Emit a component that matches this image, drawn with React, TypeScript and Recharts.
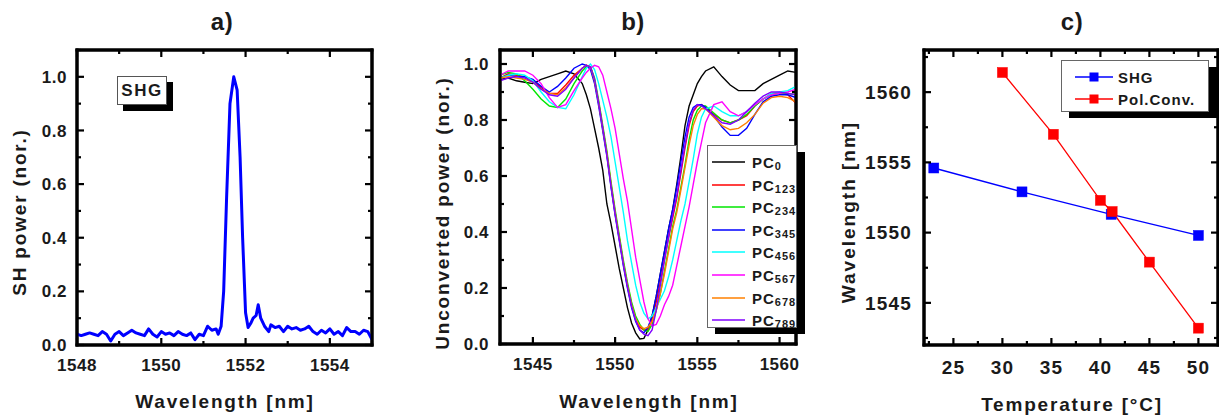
import React from "react";
import { LineChart, Line, XAxis, YAxis, ReferenceArea } from "recharts";

const FONT = "'Liberation Sans', Arial, Helvetica, sans-serif";
const INK = "#1a1a1a";

// ---------------- Panel a: SHG spectrum ----------------
const shgWavelength = [
  1548.0, 1548.1, 1548.2, 1548.3, 1548.4, 1548.5, 1548.6, 1548.7, 1548.8, 1548.9,
  1549.0, 1549.1, 1549.2, 1549.3, 1549.4, 1549.5, 1549.6, 1549.7, 1549.8, 1549.9,
  1550.0, 1550.1, 1550.2, 1550.3, 1550.4, 1550.5, 1550.6, 1550.7, 1550.8, 1550.9,
  1551.0, 1551.1, 1551.2, 1551.3, 1551.35, 1551.42, 1551.48, 1551.55, 1551.63, 1551.72,
  1551.8, 1551.87, 1551.93, 1552.0, 1552.06, 1552.12, 1552.18, 1552.25, 1552.3, 1552.36,
  1552.45, 1552.55, 1552.6, 1552.7, 1552.8, 1552.9, 1553.0, 1553.1, 1553.2, 1553.3,
  1553.4, 1553.5, 1553.6, 1553.7, 1553.8, 1553.9, 1554.0, 1554.1, 1554.2, 1554.3,
  1554.4, 1554.5, 1554.6, 1554.7, 1554.8, 1554.9, 1555.0,
];
const shgPower = [
  0.04, 0.035, 0.04, 0.045, 0.04, 0.035, 0.05, 0.04, 0.015, 0.04,
  0.05, 0.035, 0.045, 0.055, 0.045, 0.04, 0.035, 0.06, 0.04, 0.03,
  0.05, 0.04, 0.045, 0.035, 0.05, 0.04, 0.035, 0.045, 0.02, 0.04,
  0.035, 0.07, 0.055, 0.06, 0.04, 0.07, 0.2, 0.55, 0.9, 1.0,
  0.95, 0.7, 0.4, 0.12, 0.065, 0.08, 0.1, 0.11, 0.15, 0.1,
  0.07, 0.05, 0.075, 0.065, 0.07, 0.05, 0.07, 0.06, 0.065, 0.055,
  0.06, 0.07, 0.05, 0.04, 0.055, 0.045, 0.06, 0.04, 0.05, 0.035,
  0.065, 0.05, 0.05, 0.04, 0.055, 0.05, 0.02,
];

// ---------------- Panel b: unconverted power ----------------
const specWavelength = [
  1543, 1543.5, 1544, 1544.5, 1545, 1545.5, 1546, 1546.5, 1547, 1547.5,
  1548, 1548.25, 1548.5, 1548.75, 1549, 1549.25, 1549.5, 1549.75, 1550, 1550.25,
  1550.5, 1550.75, 1551, 1551.25, 1551.5, 1551.75, 1552, 1552.25, 1552.5, 1552.75,
  1553, 1553.25, 1553.5, 1553.75, 1554, 1554.25, 1554.5, 1554.75, 1555, 1555.25,
  1555.5, 1556, 1556.5, 1557, 1557.5, 1558, 1558.5, 1559, 1559.5, 1560,
  1560.5, 1561,
];
const pc0 = [
  0.945, 0.95, 0.94, 0.935, 0.93, 0.945, 0.955, 0.965, 0.975, 0.965,
  0.93, 0.89, 0.84, 0.77, 0.7, 0.62, 0.5, 0.43, 0.35, 0.27,
  0.2, 0.13, 0.075, 0.04, 0.018, 0.02, 0.05, 0.1, 0.17, 0.25,
  0.33, 0.41, 0.48, 0.57, 0.67, 0.78, 0.85, 0.89, 0.93, 0.955,
  0.975, 0.99, 0.955, 0.925, 0.905, 0.905, 0.905, 0.93, 0.945, 0.96,
  0.975, 0.97,
];
const pc123 = [
  0.95, 0.965, 0.96, 0.955, 0.94, 0.915, 0.895, 0.895, 0.925, 0.96,
  0.985, 0.995, 0.99, 0.94, 0.86, 0.77, 0.68, 0.57, 0.47, 0.38,
  0.29, 0.21, 0.14, 0.09, 0.06, 0.05, 0.05, 0.09, 0.15, 0.22,
  0.3, 0.38, 0.45, 0.52, 0.61, 0.7, 0.78, 0.83, 0.85, 0.855,
  0.845, 0.82, 0.8, 0.79, 0.8, 0.815, 0.85, 0.875, 0.895, 0.895,
  0.89, 0.86,
];
const pc234 = [
  0.96, 0.97, 0.965, 0.94, 0.91, 0.875, 0.85, 0.845, 0.875, 0.93,
  0.975, 0.99, 0.99, 0.95, 0.87, 0.78, 0.69, 0.58, 0.48, 0.39,
  0.3, 0.22, 0.15, 0.1, 0.07, 0.05, 0.045, 0.07, 0.12, 0.18,
  0.26, 0.34, 0.42, 0.48, 0.56, 0.64, 0.73, 0.8, 0.835, 0.85,
  0.85, 0.825, 0.8, 0.79, 0.8, 0.82, 0.85, 0.875, 0.89, 0.895,
  0.895, 0.89,
];
const pc345 = [
  0.95, 0.96, 0.955, 0.955, 0.945, 0.92, 0.9, 0.92, 0.95, 0.985,
  1.0, 0.995, 0.98, 0.93, 0.85, 0.76, 0.67, 0.56, 0.46, 0.37,
  0.28, 0.2, 0.13, 0.08, 0.05, 0.04, 0.06, 0.1, 0.17, 0.25,
  0.33, 0.41, 0.48, 0.56, 0.65, 0.74, 0.81, 0.845, 0.855, 0.855,
  0.845, 0.815, 0.775, 0.745, 0.745, 0.77, 0.82, 0.865, 0.885, 0.89,
  0.89, 0.88,
];
const pc456 = [
  0.95, 0.96, 0.965, 0.96, 0.94, 0.9, 0.865, 0.845, 0.84, 0.89,
  0.955, 0.985, 1.0, 0.98, 0.93, 0.87, 0.81, 0.74, 0.65, 0.56,
  0.47, 0.37, 0.29, 0.21, 0.15, 0.11, 0.09, 0.1, 0.13, 0.16,
  0.19, 0.24, 0.3, 0.37, 0.44, 0.5, 0.58, 0.66, 0.75, 0.81,
  0.84, 0.85, 0.83, 0.815, 0.815, 0.83, 0.855, 0.875, 0.895, 0.9,
  0.905, 0.92,
];
const pc567 = [
  0.96, 0.975, 0.975, 0.975, 0.96, 0.93, 0.88, 0.845, 0.855, 0.905,
  0.95, 0.97, 0.985, 0.995, 0.99, 0.96, 0.9, 0.84, 0.77, 0.68,
  0.59, 0.51, 0.41, 0.31, 0.23, 0.15, 0.09, 0.065, 0.07, 0.1,
  0.14, 0.17, 0.21, 0.28, 0.35, 0.42, 0.49, 0.57, 0.65, 0.72,
  0.79, 0.855, 0.865, 0.83, 0.815, 0.83, 0.855, 0.875, 0.89, 0.895,
  0.9, 0.91,
];
const pc678 = [
  0.95, 0.955, 0.95, 0.945, 0.935, 0.91, 0.895, 0.89, 0.915, 0.95,
  0.985, 0.995, 0.99, 0.94, 0.86, 0.77, 0.68, 0.57, 0.47, 0.38,
  0.29, 0.21, 0.14, 0.09, 0.065, 0.055, 0.06, 0.08, 0.12, 0.18,
  0.25, 0.33, 0.41, 0.47, 0.55, 0.63, 0.71, 0.78, 0.82, 0.84,
  0.84, 0.81, 0.78, 0.765, 0.77, 0.79, 0.82, 0.86, 0.88, 0.885,
  0.88, 0.865,
];
const pc789 = [
  0.94, 0.95, 0.955, 0.95, 0.935, 0.91, 0.89, 0.885, 0.91, 0.95,
  0.985, 0.995, 0.99, 0.945, 0.86, 0.77, 0.675, 0.565, 0.465, 0.375,
  0.285, 0.205, 0.135, 0.085, 0.05, 0.035, 0.03, 0.05, 0.12, 0.21,
  0.3, 0.38, 0.46, 0.53, 0.62, 0.71, 0.79, 0.835, 0.855, 0.85,
  0.84, 0.815, 0.79, 0.785, 0.8, 0.83, 0.86, 0.885, 0.9, 0.9,
  0.895, 0.89,
];
const pcSeries = [pc0, pc123, pc234, pc345, pc456, pc567, pc678, pc789];
const pcSubscripts = ["0", "123", "234", "345", "456", "567", "678", "789"];
const pcColors = ["#000000", "#ff0000", "#00e600", "#0000ff", "#00ffff", "#ff00ff", "#ff8000", "#8000ff"];

// ---------------- Panel c: wavelength vs temperature ----------------
const shgTemp = [23, 32, 41.1, 50];
const shgPeak = [1554.6, 1552.9, 1551.3, 1549.8];
const polTemp = [30, 35.2, 40, 41.2, 45, 50];
const polPeak = [1561.4, 1557.0, 1552.3, 1551.5, 1547.9, 1543.2];

// ---------------- helpers ----------------
type Side = "bottom" | "left";
type TickOpt = { fontSize?: number; gap?: number; digits?: number; ls?: number; mirror: number };

function tickRenderer(side: Side, majors: number[], opt: TickOpt) {
  return (props: any) => {
    const { x, y, payload } = props;
    const v = Number(payload.value);
    const major = majors.some((m) => Math.abs(m - v) < 1e-6);
    const len = major ? 7 : 4;
    const fs = opt.fontSize ?? 17;
    const txt = opt.digits !== undefined ? v.toFixed(opt.digits) : String(v);
    const style = { letterSpacing: `${opt.ls ?? 0.5}px` } as any;
    if (side === "bottom") {
      const yt = y - opt.mirror;
      return (
        <g>
          <rect x={x - 1.1} y={y - len} width={2.2} height={len} fill="#000000" />
          <rect x={x - 1.1} y={yt} width={2.2} height={len} fill="#000000" />
          {major ? (
            <text x={x} y={y + (opt.gap ?? 25)} textAnchor="middle" fontSize={fs} fontWeight="bold" fontFamily={FONT} fill={INK} style={style}>
              {txt}
            </text>
          ) : null}
        </g>
      );
    }
    const xr = x + opt.mirror;
    return (
      <g>
        <rect x={x} y={y - 1.1} width={len} height={2.2} fill="#000000" />
        <rect x={xr - len} y={y - 1.1} width={len} height={2.2} fill="#000000" />
        {major ? (
          <text x={x - (opt.gap ?? 10)} y={y + fs * 0.36} textAnchor="end" fontSize={fs} fontWeight="bold" fontFamily={FONT} fill={INK} style={style}>
            {txt}
          </text>
        ) : null}
      </g>
    );
  };
}

const axisCommon = {
  tickLine: false,
  tickSize: 0,
  tickMargin: 0,
  interval: 0 as const,
  allowDataOverflow: true,
  axisLine: false,
};

const textBold = (size: number, ls = 1.8): React.CSSProperties => ({
  fontFamily: FONT,
  fontWeight: "bold",
  fontSize: size,
  letterSpacing: ls,
  color: INK,
  whiteSpace: "nowrap",
  lineHeight: 1,
});

function Centered({ x, y, rotate, children, style }: any) {
  return (
    <div
      style={{
        position: "absolute",
        left: x,
        top: y,
        transform: `translate(-50%, -50%)${rotate ? " rotate(-90deg)" : ""}`,
        ...style,
      }}
    >
      {children}
    </div>
  );
}

// Plot-box frames drawn as one overlay svg of filled rectangles.
const frames = [
  { l: 77, t: 50, r: 372, b: 345 },
  { l: 500, t: 50, r: 796, b: 344 },
  { l: 924, t: 50, r: 1218, b: 345 },
];
function FrameOverlay() {
  const w = 3;
  return (
    <svg width={1219} height={420} style={{ position: "absolute", left: 0, top: 0, zIndex: 5, pointerEvents: "none" }}>
      {frames.map((f, i) => (
        <g key={i} fill="#000000">
          <rect x={f.l - w / 2} y={f.t - w / 2} width={f.r - f.l + w} height={w} />
          <rect x={f.l - w / 2} y={f.b - w / 2} width={f.r - f.l + w} height={w} />
          <rect x={f.l - w / 2} y={f.t - w / 2} width={w} height={f.b - f.t + w} />
          <rect x={f.r - w / 2} y={f.t - w / 2} width={w} height={f.b - f.t + w} />
        </g>
      ))}
    </svg>
  );
}

function Square({ cx, cy, color, size = 10 }: any) {
  if (cx == null || cy == null) return <g />;
  return <rect x={cx - size / 2} y={cy - size / 2} width={size} height={size} fill={color} stroke={color} strokeWidth={0.5} />;
}

export default function App() {
  const rowsA = shgWavelength.map((x, i) => ({ x, y: shgPower[i] }));
  const rowsB = specWavelength.map((x, i) => {
    const r: any = { x };
    pcSeries.forEach((s, k) => {
      r["pc" + pcSubscripts[k]] = s[i];
    });
    return r;
  });
  const rowsShg = shgTemp.map((x, i) => ({ x, y: shgPeak[i] }));
  const rowsPol = polTemp.map((x, i) => ({ x, y: polPeak[i] }));

  const aX = [1548, 1549, 1550, 1551, 1552, 1553, 1554, 1555];
  const aXMaj = [1548, 1550, 1552, 1554];
  const aY = [0, 0.1, 0.2, 0.3, 0.4, 0.5, 0.6, 0.7, 0.8, 0.9, 1.0, 1.1];
  const aYMaj = [0, 0.2, 0.4, 0.6, 0.8, 1.0];

  const bX = [1545, 1547.5, 1550, 1552.5, 1555, 1557.5, 1560];
  const bXMaj = [1545, 1550, 1555, 1560];
  const bY = [0, 0.1, 0.2, 0.3, 0.4, 0.5, 0.6, 0.7, 0.8, 0.9, 1.0];

  const cX = [22.5, 25, 27.5, 30, 32.5, 35, 37.5, 40, 42.5, 45, 47.5, 50];
  const cXMaj = [25, 30, 35, 40, 45, 50];
  const cY = [1542.5, 1545, 1547.5, 1550, 1552.5, 1555, 1557.5, 1560, 1562.5];
  const cYMaj = [1545, 1550, 1555, 1560];

  const frameProps = { fill: "none", stroke: "#000000", strokeWidth: 3, strokeOpacity: 1, ifOverflow: "visible" as const };

  return (
    <div style={{ position: "absolute", left: 0, top: 0, width: 1219, height: 420, background: "#ffffff", overflow: "hidden" }}>
      {/* Panel a */}
      <div style={{ position: "absolute", left: 0, top: 0 }}>
        <LineChart width={400} height={420} data={rowsA} margin={{ top: 50, right: 28, bottom: 35, left: 0 }}>
          <XAxis {...axisCommon} dataKey="x" type="number" domain={[1548, 1555]} ticks={aX} height={40}
            tick={tickRenderer("bottom", aXMaj, { fontSize: 17, gap: 26, mirror: 295 })} />
          <YAxis {...axisCommon} type="number" domain={[0, 1.1]} ticks={aY} width={77}
            tick={tickRenderer("left", aYMaj, { fontSize: 17, gap: 10, digits: 1, mirror: 295 })} />
          <Line type="linear" dataKey="y" stroke="#0000ff" strokeWidth={3} strokeLinejoin="round" dot={false} isAnimationActive={false} />
          <ReferenceArea x1={1548} x2={1555} y1={0} y2={1.1} {...frameProps} />
        </LineChart>
      </div>

      {/* Panel b */}
      <div style={{ position: "absolute", left: 400, top: 0 }}>
        <LineChart width={420} height={420} data={rowsB} margin={{ top: 50, right: 24, bottom: 36, left: 0 }}>
          <XAxis {...axisCommon} dataKey="x" type="number" domain={[1543, 1561]} ticks={bX} height={40}
            tick={tickRenderer("bottom", bXMaj, { fontSize: 17, gap: 26, mirror: 294 })} />
          <YAxis {...axisCommon} type="number" domain={[0, 1.05]} ticks={bY} width={100}
            tick={tickRenderer("left", aYMaj, { fontSize: 17, gap: 11, digits: 1, mirror: 296 })} />
          {pcSubscripts.map((s, k) => (
            <Line key={s} type="linear" dataKey={"pc" + s} stroke={pcColors[k]} strokeWidth={1.4} dot={false} isAnimationActive={false} />
          ))}
          <ReferenceArea x1={1543} x2={1561} y1={0} y2={1.05} {...frameProps} />
        </LineChart>
      </div>

      {/* Panel c */}
      <div style={{ position: "absolute", left: 820, top: 0 }}>
        <LineChart width={399} height={420} margin={{ top: 50, right: 1, bottom: 35, left: 0 }}>
          <XAxis {...axisCommon} dataKey="x" type="number" domain={[22, 52]} ticks={cX} height={40}
            tick={tickRenderer("bottom", cXMaj, { fontSize: 19, gap: 29, ls: 1.2, mirror: 295 })} />
          <YAxis {...axisCommon} type="number" domain={[1542, 1563]} ticks={cY} width={104}
            tick={tickRenderer("left", cYMaj, { fontSize: 19, gap: 12, ls: 1.2, mirror: 294 })} />
          <Line data={rowsShg} type="linear" dataKey="y" stroke="#0000ff" strokeWidth={1.3} isAnimationActive={false}
            dot={(p: any) => <Square key={"s" + p.index} cx={p.cx} cy={p.cy} color="#0000ff" />} />
          <Line data={rowsPol} type="linear" dataKey="y" stroke="#ff0000" strokeWidth={1.3} isAnimationActive={false}
            dot={(p: any) => <Square key={"p" + p.index} cx={p.cx} cy={p.cy} color="#ff0000" />} />
          <ReferenceArea x1={22} x2={52} y1={1542} y2={1563} {...frameProps} />
        </LineChart>
      </div>

      <FrameOverlay />

      {/* Titles */}
      <Centered x={222} y={22} style={textBold(24, 0.5)}>a)</Centered>
      <Centered x={633} y={22} style={textBold(24, 0.5)}>b)</Centered>
      <Centered x={1072} y={22} style={textBold(24, 0.5)}>c)</Centered>

      {/* Axis titles */}
      <Centered x={225} y={401} style={textBold(19)}>Wavelength [nm]</Centered>
      <Centered x={649} y={401} style={textBold(19)}>Wavelength [nm]</Centered>
      <Centered x={1072} y={404} style={textBold(19)}>Temperature [°C]</Centered>
      <Centered x={19} y={212} rotate style={textBold(19)}>SH power (nor.)</Centered>
      <Centered x={442} y={213} rotate style={textBold(19)}>Unconverted power (nor.)</Centered>
      <Centered x={848} y={212} rotate style={textBold(19, 2)}>Wavelength [nm]</Centered>

      {/* Panel a label box */}
      <div style={{ position: "absolute", zIndex: 6, left: 123, top: 82, width: 50, height: 29, background: "#000" }} />
      <div style={{ position: "absolute", zIndex: 6, left: 117, top: 76, width: 50, height: 29, background: "#fff", border: "1px solid #555", boxSizing: "border-box", display: "flex", alignItems: "center", justifyContent: "center" }}>
        <span style={textBold(17, 1.5)}>SHG</span>
      </div>

      {/* Panel b legend */}
      <div style={{ position: "absolute", zIndex: 6, left: 715, top: 152, width: 90, height: 182, background: "#000" }} />
      <div style={{ position: "absolute", zIndex: 6, left: 707, top: 145, width: 90, height: 183, background: "#fff", border: "1px solid #666", boxSizing: "border-box" }}>
        {pcSubscripts.map((s, k) => (
          <div key={s} style={{ position: "absolute", left: 0, top: 16 + k * 22.6 - 9, height: 18, width: 90 }}>
            <svg width={40} height={18} style={{ position: "absolute", left: 4, top: 0 }}>
              <line x1={0} y1={9} x2={33} y2={9} stroke={pcColors[k]} strokeWidth={1.6} />
            </svg>
            <div style={{ position: "absolute", left: 44, top: 2, ...textBold(15, 1) }}>
              PC<span style={{ fontSize: 11, position: "relative", top: 2, letterSpacing: 1 }}>{s}</span>
            </div>
          </div>
        ))}
      </div>

      {/* Panel c legend */}
      <div style={{ position: "absolute", zIndex: 6, left: 1069, top: 67, width: 148, height: 51, background: "#000" }} />
      <div style={{ position: "absolute", zIndex: 6, left: 1061, top: 60, width: 148, height: 52, background: "#fff", border: "1px solid #666", boxSizing: "border-box" }}>
        {[
          { name: "SHG", color: "#0000ff" },
          { name: "Pol.Conv.", color: "#ff0000" },
        ].map((e, k) => (
          <div key={e.name} style={{ position: "absolute", left: 0, top: 16 + k * 22 - 9, height: 18, width: 148 }}>
            <svg width={42} height={18} style={{ position: "absolute", left: 13, top: 0 }}>
              <line x1={0} y1={9} x2={38} y2={9} stroke={e.color} strokeWidth={1.3} />
              <rect x={14.5} y={4.5} width={9} height={9} fill={e.color} />
            </svg>
            <div style={{ position: "absolute", left: 56, top: 2, ...textBold(15, 1) }}>{e.name}</div>
          </div>
        ))}
      </div>
    </div>
  );
}
